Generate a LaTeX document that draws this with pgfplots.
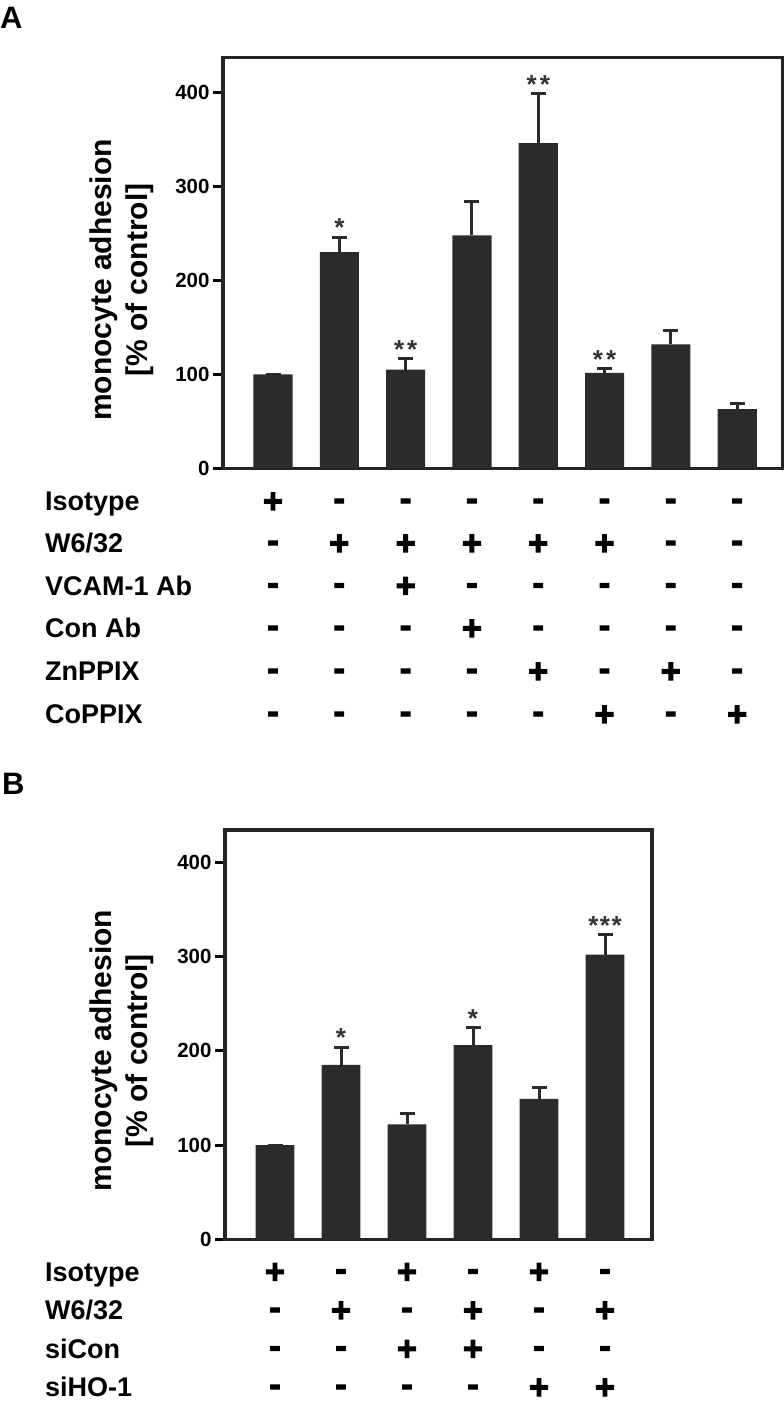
\documentclass[border=0pt]{standalone}
\usepackage{fontspec}
\setmainfont{Liberation Sans}
\newfontface\signfont[FakeBold=3.5]{Liberation Sans Bold}
\usepackage{pgfplots}
\pgfplotsset{compat=1.18}

\definecolor{barcol}{HTML}{2B2B2B}
\definecolor{boxcol}{HTML}{252525}
\definecolor{starcol}{HTML}{333333}

\newcommand{\sgp}{+}
\newcommand{\sgm}{\raisebox{0.08em}{-}}

\pgfplotsset{
  panel/.style={
    scale only axis, anchor=south west, clip=false,
    ymin=0, ytick={0,100,200,300,400}, xtick=\empty,
    axis line style={line width=3.5pt, draw=boxcol},
    tick align=outside, ytick pos=left,
    major tick length=10pt,
    tick style={line width=3pt, black},
    /pgf/number format/assume math mode=true,
    yticklabel style={font=\fontsize{20.5}{20.5}\selectfont\bfseries, text=black},
  },
  bars/.style={ybar, bar width=0.59, fill=barcol, draw=none,
    error bars/.cd, y dir=plus, y explicit,
    error bar style={line width=3pt, draw=barcol},
    error mark options={rotate=90, mark size=7.5pt, line width=3pt, draw=barcol}},
  stars/.style={only marks, mark=*, mark size=0pt,
    mark options={draw=none, fill=none},
    point meta=explicit symbolic, nodes near coords,
    every node near coord/.append style={anchor=south, inner sep=0pt,
      font=\fontsize{26}{26}\selectfont\bfseries, text=starcol}},
}

\begin{document}
\begin{tikzpicture}
\useasboundingbox (0pt,0pt) rectangle (784pt,-1406pt);

% ---------------- panel A
\begin{axis}[panel, at={(223pt,-468.3pt)},
  width=560pt, height=410.8pt,
  xmin=-0.754, xmax=7.69, ymax=437.2]
\addplot[bars] coordinates {
  (0,100) +- (0,0)
  (1,230) +- (0,16)
  (2,105) +- (0,12)
  (3,248) +- (0,36)
  (4,346) +- (0,53)
  (5,101.5) +- (0,4.5)
  (6,132) +- (0,15)
  (7,63) +- (0,6)
};
\addplot[stars] coordinates {
  (1,246) [*]
  (2,117) [*\kern3pt*]
  (4,399) [*\kern3pt*]
  (5,106) [*\kern3pt*]
};
\end{axis}

% ---------------- panel B
\begin{axis}[panel, at={(225pt,-1239.3pt)},
  width=427pt, height=409.3pt,
  xmin=-0.758, xmax=5.712, ymax=434.3]
\addplot[bars] coordinates {
  (0,100) +- (0,0)
  (1,185) +- (0,19)
  (2,122) +- (0,12)
  (3,206) +- (0,19)
  (4,149) +- (0,12)
  (5,302) +- (0,21)
};
\addplot[stars] coordinates {
  (1,204) [*]
  (3,225) [*]
  (5,323) [*\kern1.5pt*\kern1.5pt*]
};
\end{axis}

% panel letters
\node[anchor=base west, inner sep=0pt, font=\fontsize{31}{31}\selectfont\bfseries] at (0pt,-28.3pt) {A};
\node[anchor=base west, inner sep=0pt, font=\fontsize{31}{31}\selectfont\bfseries] at (2pt,-794pt) {B};

% y labels
\node[rotate=90, align=center, inner sep=0pt, font=\fontsize{30}{36}\selectfont\bfseries]
  at (122pt,-280pt) {monocyte adhesion\\{[}\% of control{]}};
\node[rotate=90, align=center, inner sep=0pt, font=\fontsize{30}{36}\selectfont\bfseries]
  at (122pt,-1050.7pt) {monocyte adhesion\\{[}\% of control{]}};

% treatment row labels
\begin{scope}[every node/.style={anchor=base west, inner sep=0pt,
    font=\fontsize{27}{27}\selectfont\bfseries}]
\node at (45pt,-510.7pt) {Isotype};
\node at (45pt,-552.7pt) {W6/32};
\node at (45pt,-595.2pt) {VCAM-1 Ab};
\node at (45pt,-637.7pt) {Con Ab};
\node at (45pt,-680.7pt) {ZnPPIX};
\node at (45pt,-723.7pt) {CoPPIX};
\node at (45pt,-1281.2pt) {Isotype};
\node at (45pt,-1319.7pt) {W6/32};
\node at (45pt,-1358.2pt) {siCon};
\node at (45pt,-1396.7pt) {siHO-1};
\end{scope}

% +/- table
\foreach \sg/\yy in {{p,m,m,m,m,m,m,m}/501, {m,p,p,p,p,p,m,m}/543,
    {m,m,p,m,m,m,m,m}/585.5, {m,m,m,p,m,m,m,m}/628,
    {m,m,m,m,p,m,p,m}/671, {m,m,m,m,m,p,m,p}/714}
  \foreach \s [count=\i from 0] in \sg
    \node[anchor=base, inner sep=0pt, font=\signfont\fontsize{34}{34}\selectfont]
      at ({273pt+66.3pt*\i},{-\yy*1pt-11.6pt}) {\csname sg\s\endcsname};
\foreach \sg/\yy in {{p,m,p,m,p,m}/1271.5, {m,p,m,p,m,p}/1310,
    {m,m,p,p,m,m}/1348.5, {m,m,m,m,p,p}/1387}
  \foreach \s [count=\i from 0] in \sg
    \node[anchor=base, inner sep=0pt, font=\signfont\fontsize{34}{34}\selectfont]
      at ({275pt+66pt*\i},{-\yy*1pt-11.6pt}) {\csname sg\s\endcsname};
\end{tikzpicture}
\end{document}
